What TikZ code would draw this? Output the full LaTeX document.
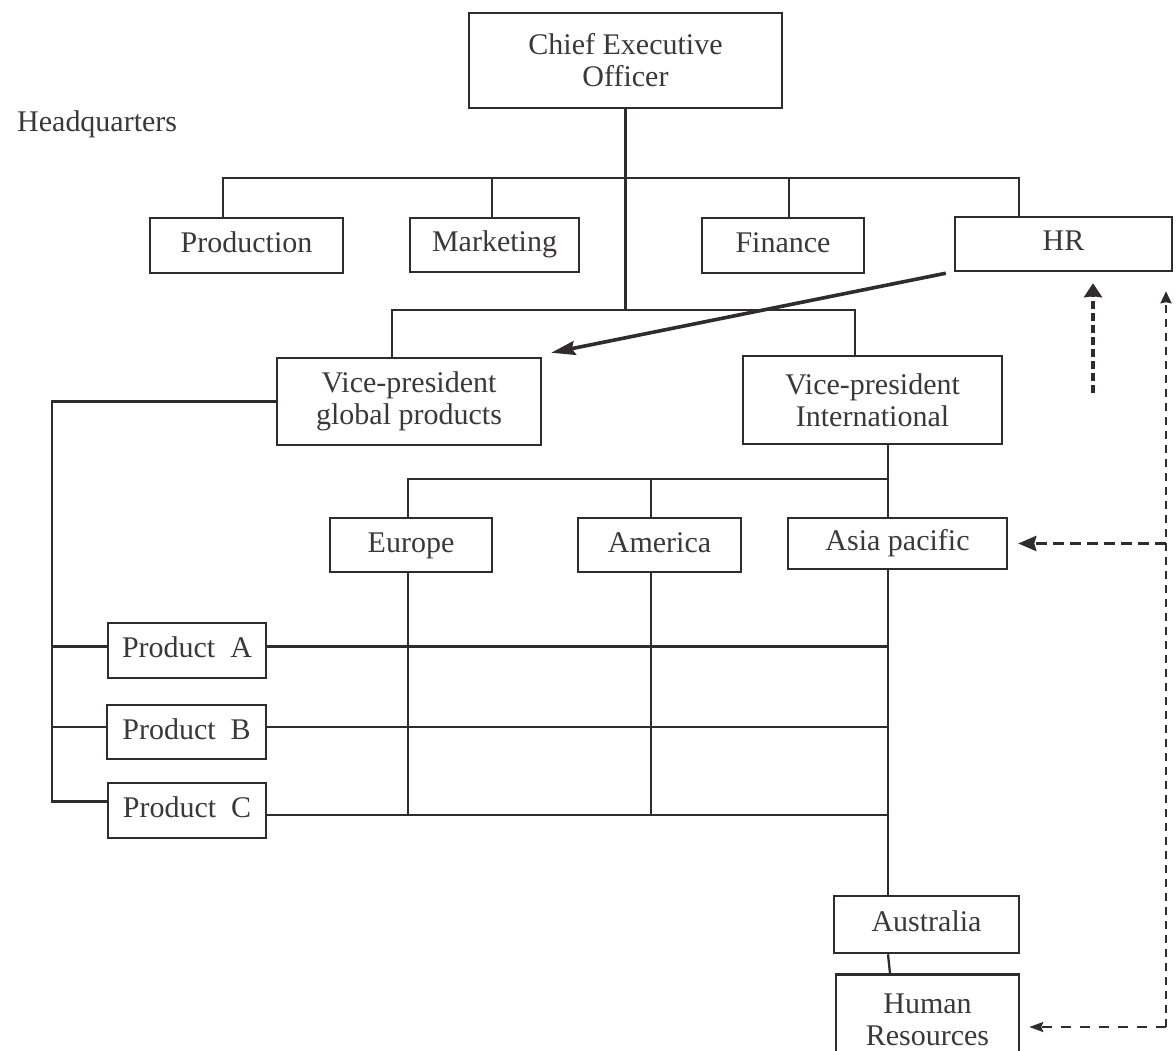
\documentclass[tikz,border=0pt]{standalone}
\usepackage{fontspec}
\setmainfont{Liberation Serif}
\usetikzlibrary{arrows.meta}
\definecolor{ink}{RGB}{48,44,44}
\definecolor{inktext}{RGB}{60,56,56}
\tikzset{
  unit/.style={draw=ink, line width=2.5pt, rectangle, inner sep=0pt,
    text=inktext, font=\fontsize{30pt}{32pt}\selectfont, align=center},
  oneline/.style={text height=21pt, text depth=7pt},
  link/.style={draw=ink, line width=2.3pt, line join=miter},
  bigarrow/.style={draw=ink, line width=3.6pt,
    -{Stealth[length=24pt,width=14pt,inset=3pt]}},
  thindash/.style={draw=ink, line width=2.2pt, dash pattern=on 8pt off 6pt,
    -{Stealth[length=12pt,width=11pt,inset=1pt]}},
  stubdash/.style={draw=ink, line width=4pt, dash pattern=on 8pt off 4pt,
    -{Stealth[length=14pt,width=18pt,inset=1pt]}},
  asiadash/.style={draw=ink, line width=3.4pt, dash pattern=on 11pt off 6pt,
    -{Stealth[length=18pt,width=15pt,inset=2pt]}},
  lowdash/.style={draw=ink, line width=2.2pt, dash pattern=on 10pt off 9pt,
    -{Stealth[length=14pt,width=10pt,inset=2pt]}},
}
\begin{document}
\begin{tikzpicture}[x=1pt, y=-1pt]
  \useasboundingbox (0,0) rectangle (1176,1051);
  \fill[white] (0,0) rectangle (1176,1051);
  \clip (0,0) rectangle (1176,1051);

  % headquarters level
  \node[anchor=base west, inner sep=0pt, text=inktext, font=\fontsize{30pt}{32pt}\selectfont]
    (hq) at (17,132) {Headquarters};
  \node[unit, minimum width=313pt, minimum height=95pt] (ceo) at (625.5,60.5)
    {Chief Executive\\Officer};
  \node[unit, oneline, minimum width=193pt, minimum height=55pt] (prod) at (246.5,245.5) {Production};
  \node[unit, oneline, minimum width=169pt, minimum height=54pt] (mkt) at (494.5,245) {Marketing};
  \node[unit, oneline, minimum width=162pt, minimum height=55pt] (fin) at (783,245.5) {Finance};
  \node[unit, oneline, minimum width=217pt, minimum height=54pt] (hr) at (1063.5,244) {HR};

  % vice-presidents
  \node[unit, minimum width=264pt, minimum height=87pt] (vpg) at (409,401.5)
    {Vice-president\\global products};
  \node[unit, minimum width=259pt, minimum height=88pt] (vpi) at (872.5,400)
    {Vice-president\\International};

  % regions
  \node[unit, oneline, minimum width=162pt, minimum height=54pt] (eu) at (411,545) {Europe};
  \node[unit, oneline, minimum width=163pt, minimum height=54pt] (am) at (659.5,545) {America};
  \node[unit, oneline, minimum width=219pt, minimum height=51pt] (ap) at (897.5,543.5) {Asia pacific};
  \node[unit, oneline, minimum width=185pt, minimum height=57pt] (au) at (926.5,924.5) {Australia};
  \node[unit, minimum width=183pt, minimum height=91pt] (hrm) at (927.5,1020)
    {Human\\Resources};

  % products
  \node[unit, oneline, minimum width=158pt, minimum height=55pt] (pa) at (187,650.5) {Product~~A};
  \node[unit, oneline, minimum width=159pt, minimum height=54pt] (pb) at (186.5,732) {Product~~B};
  \node[unit, oneline, minimum width=158pt, minimum height=55pt] (pc) at (187,810.5) {Product~~C};

  % junction points
  \coordinate (jP) at (223,178);
  \coordinate (jM) at (492,178);
  \coordinate (jF) at (789,178);
  \coordinate (jH) at (1019,178);
  \coordinate (jVG) at (392,310);
  \coordinate (jVI) at (855,310);
  \coordinate (tI) at (888,479);
  \coordinate (jE) at (408,479);
  \coordinate (jA) at (651,479);
  \coordinate (rowC) at (888,815);
  \coordinate (lT) at (52,403);

  % headquarters bar
  \draw[link] (jP |- prod.north) -- (jP) -- (jH) -- (jH |- hr.north);
  \draw[link] (jM) -- (jM |- mkt.north);
  \draw[link] (jF) -- (jF |- fin.north);
  \draw[link] (ceo.south) -- (ceo.south |- jVG);

  % vice-president bar
  \draw[link] (jVG |- vpg.north) -- (jVG) -- (jVI) -- (jVI |- vpi.north);

  % international line down to the regions
  \draw[link] (tI |- vpi.south) -- (tI |- ap.north);
  \draw[link] (jE |- eu.north) -- (jE) -- (tI);
  \draw[link] (jA) -- (jA |- am.north);
  \draw[link] (jE |- eu.south) -- (jE |- rowC);
  \draw[link] (jA |- am.south) -- (jA |- rowC);
  \draw[link] (tI |- ap.south) -- (tI |- au.north);
  \draw[link] (tI |- au.south) -- ([xshift=2pt]tI |- hrm.north);

  % global products line
  \draw[link] (vpg.west) -| ([yshift=9pt]pc.west -| lT) -- ([yshift=9pt]pc.west);
  \draw[link] ([yshift=4pt]pa.west -| lT) -- ([yshift=4pt]pa.west);
  \draw[link] ([yshift=5pt]pb.west -| lT) -- ([yshift=5pt]pb.west);

  % product lines across the regions
  \draw[link] ([yshift=4pt]pa.east) -- ([yshift=4pt]pa.east -| tI);
  \draw[link] ([yshift=5pt]pb.east) -- ([yshift=5pt]pb.east -| tI);
  \draw[link] ([yshift=-4.5pt]pc.east) -- ([yshift=-4.5pt]pc.east -| tI);

  % HR reporting line
  \draw[bigarrow] ([xshift=-8pt,yshift=-1pt]hr.south west)
    -- ([xshift=9pt,yshift=4pt]vpg.north east);

  % dashed links to HR
  \coordinate (dC) at (1166,1027);
  \coordinate (dS) at (1093,393);
  \draw[thindash, shorten >=19pt] (dC) -- (dC |- hr.south);
  \draw[stubdash, shorten >=11pt] (dS) -- (dS |- hr.south);
  \draw[asiadash, shorten >=10pt] (dC |- ap.east) -- (ap.east);
  \draw[lowdash, shorten >=9pt] (dC) -- (dC -| hrm.east);
\end{tikzpicture}
\end{document}
